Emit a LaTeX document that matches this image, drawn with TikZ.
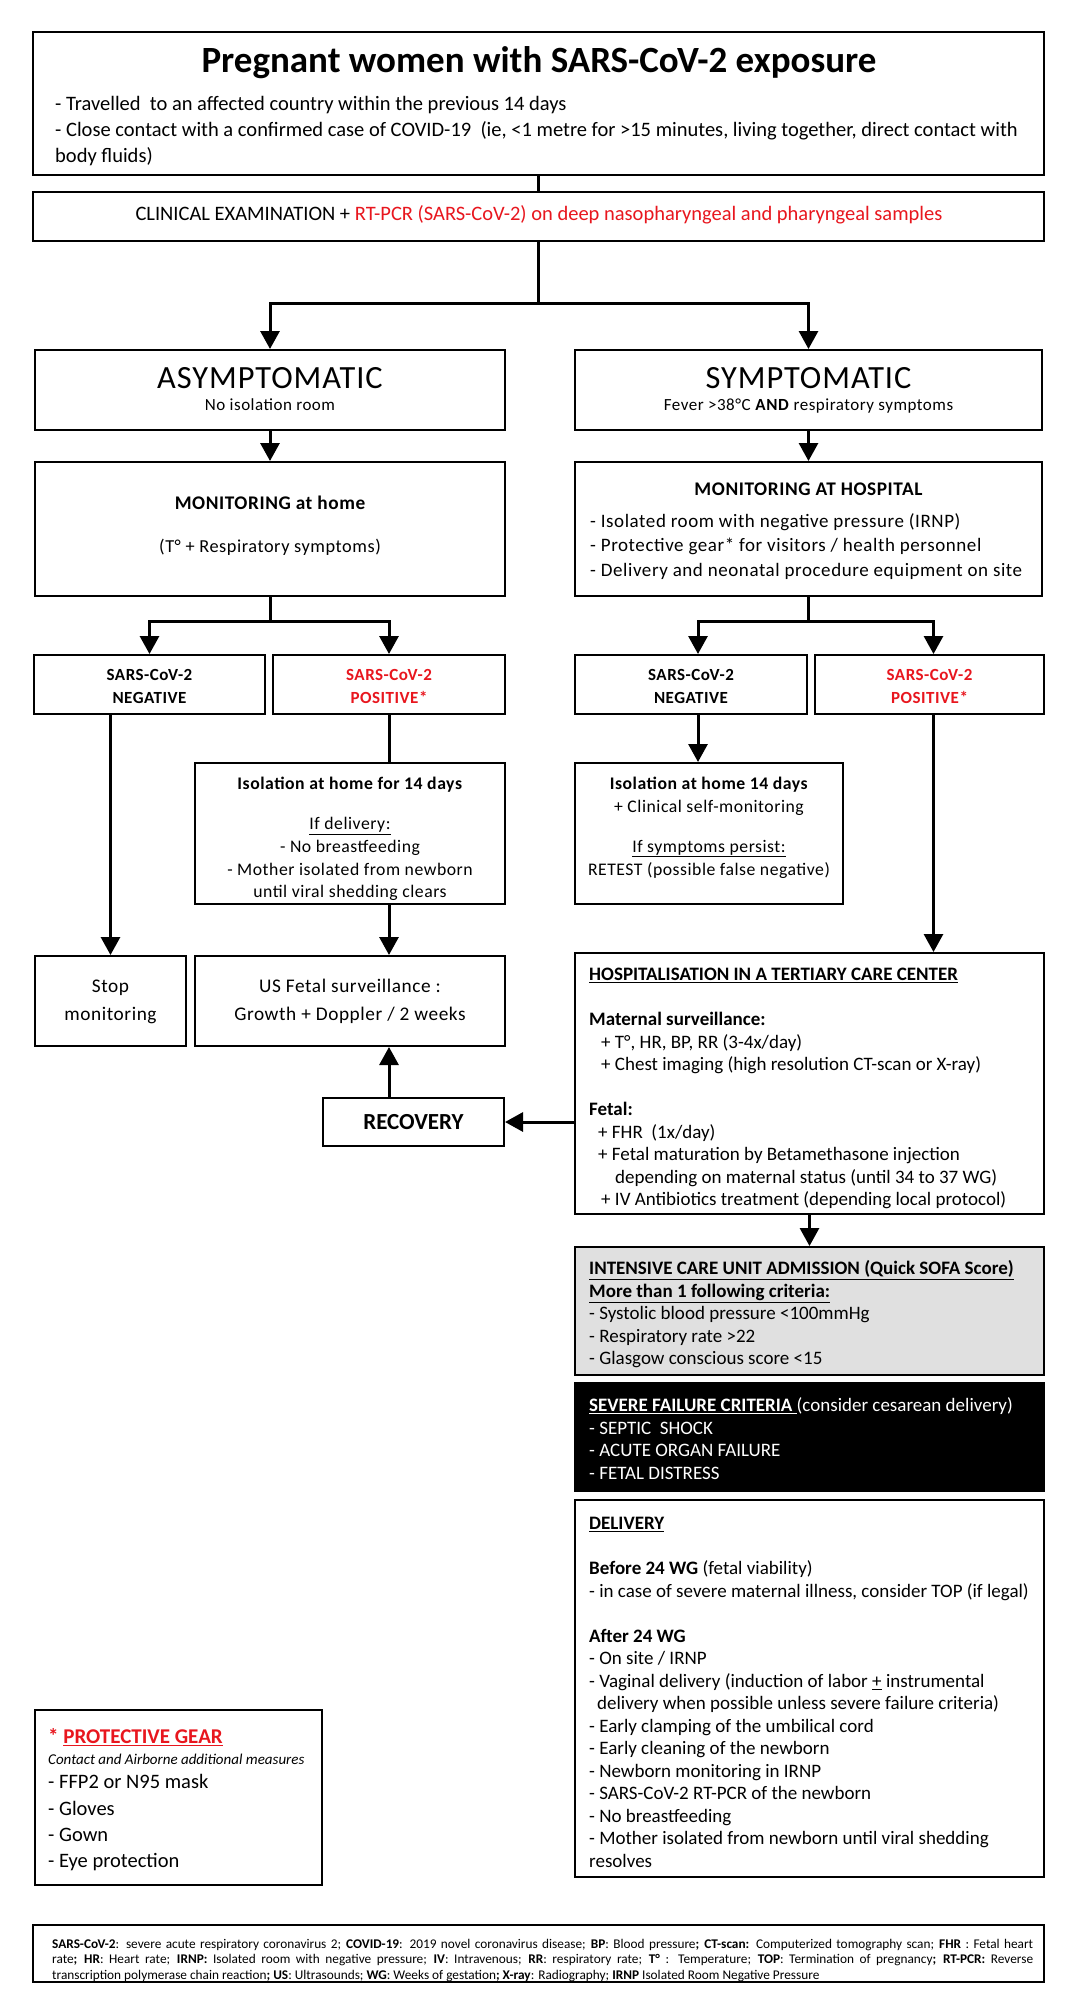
\documentclass[tikz,border=0pt]{standalone}
\usepackage{fontspec}
\setmainfont{Carlito}
\newfontfamily\spaced[LetterSpace=3]{Carlito}
\usetikzlibrary{arrows.meta,fit,calc}
\definecolor{alertred}{RGB}{232,22,30}
\definecolor{icugray}{RGB}{224,224,224}
\tikzset{
  box/.style={draw, line width=2pt, inner sep=0pt},
  link/.style={line width=3pt},
  arr/.style={link, -{Triangle[width=19pt,length=18pt]}},
  txt/.style={inner sep=0pt, align=left, anchor=north west},
  ctxt/.style={inner sep=0pt, align=center},
}
\begin{document}
\begin{tikzpicture}[x=1pt,y=-1pt]
\useasboundingbox[fill=white] (0,0) rectangle (1080,2005);

% boxes
\node[box, fit={(33,32) (1044,175)}] (expo) {};
\node[box, fit={(33,192) (1044,241)}] (exam) {};
\node[box, fit={(35,350) (505,430)}] (asym) {};
\node[box, fit={(575,350) (1042,430)}] (sym) {};
\node[box, fit={(35,462) (505,596)}] (mhome) {};
\node[box, fit={(575,462) (1042,596)}] (mhosp) {};
\node[box, fit={(34,655) (265,714)}] (lneg) {};
\node[box, fit={(273,655) (505,714)}] (lpos) {};
\node[box, fit={(575,655) (807,714)}] (rneg) {};
\node[box, fit={(815,655) (1044,714)}] (rpos) {};
\node[box, fit={(195,763) (505,904)}] (liso) {};
\node[box, fit={(575,763) (843,904)}] (riso) {};
\node[box, fit={(35,956) (186,1046)}] (stop) {};
\node[box, fit={(195,956) (505,1046)}] (usf) {};
\node[box, fit={(575,953) (1044,1214)}] (hosp) {};
\node[box, fit={(323,1098) (504,1146)}] (recov) {};
\node[box, fill=icugray, fit={(575,1247) (1044,1375)}] (icu) {};
\node[box, fill=black, fit={(575,1383) (1044,1491)}] (sev) {};
\node[box, fit={(575,1500) (1044,1877)}] (deliv) {};
\node[box, fit={(35,1710) (322,1885)}] (gear) {};
\node[box, fit={(33,1925) (1044,1982)}] (abbr) {};

% texts
\node[ctxt, anchor=mid, font=\bfseries\fontsize{37}{44}\selectfont] (title) at (539,70) {Pregnant women with SARS-CoV-2 exposure};
\node[txt, font=\fontsize{20.5}{26}\selectfont] (expotext) at (55,92) {\strut- Travelled\ \ to an affected country within the previous 14 days\\
- Close contact with a confirmed case of COVID-19\ \ (ie, <1 metre for >15 minutes, living together, direct contact with\\
body fluids)};
\node[ctxt, anchor=mid, font=\fontsize{20.5}{24}\selectfont] (examtext) at (539,218) {CLINICAL EXAMINATION + {\color{alertred}RT-PCR (SARS-CoV-2) on deep nasopharyngeal and pharyngeal samples}};

\node[ctxt, anchor=base, font=\spaced\fontsize{32.4}{38}\selectfont] (asymhead) at (270,388.5) {ASYMPTOMATIC};
\node[ctxt, anchor=mid, font=\spaced\fontsize{17}{22}\selectfont] (asymtext) at (270,408) {No isolation room};
\node[ctxt, anchor=base, font=\spaced\fontsize{32.4}{38}\selectfont] (symhead) at (808.5,388.5) {SYMPTOMATIC};
\node[ctxt, anchor=mid, font=\spaced\fontsize{17}{22}\selectfont] (symtext) at (808.5,408) {Fever >38°C \textbf{AND} respiratory symptoms};

\node[ctxt, anchor=mid, font=\spaced\bfseries\fontsize{19.3}{24}\selectfont] (mhomehead) at (270,507) {MONITORING at home};
\node[ctxt, anchor=mid, font=\spaced\fontsize{18.3}{24}\selectfont] (mhometext) at (270,550) {(T° + Respiratory symptoms)};
\node[ctxt, anchor=mid, font=\spaced\bfseries\fontsize{19.3}{24}\selectfont] (mhosphead) at (808.5,493) {MONITORING AT HOSPITAL};
\node[txt, font=\spaced\fontsize{19}{24.5}\selectfont] (mhosptext) at (590,510) {\strut- Isolated room with negative pressure (IRNP)\\
- Protective gear* for visitors / health personnel\\
- Delivery and neonatal procedure equipment on site};

\node[ctxt, anchor=north, font=\spaced\bfseries\fontsize{17}{23}\selectfont] (lnegtext) at (149.5,664) {\strut SARS-CoV-2\\NEGATIVE};
\node[ctxt, anchor=north, text=alertred, font=\spaced\bfseries\fontsize{17}{23}\selectfont] (lpostext) at (389,664) {\strut SARS-CoV-2\\POSITIVE*};
\node[ctxt, anchor=north, font=\spaced\bfseries\fontsize{17}{23}\selectfont] (rnegtext) at (691,664) {\strut SARS-CoV-2\\NEGATIVE};
\node[ctxt, anchor=north, text=alertred, font=\spaced\bfseries\fontsize{17}{23}\selectfont] (rpostext) at (929.5,664) {\strut SARS-CoV-2\\POSITIVE*};

\node[ctxt, anchor=north, font=\spaced\fontsize{17.7}{22.7}\selectfont] (lisotext) at (350,773.5) {\strut\textbf{Isolation at home for 14 days}\\[17.3pt]
\underline{If delivery:}\\
- No breastfeeding\\
- Mother isolated from newborn\\
until viral shedding clears};
\node[ctxt, anchor=north, font=\spaced\fontsize{17.7}{22.7}\selectfont] (risotext) at (709,773.5) {\strut\textbf{Isolation at home 14 days}\\
+ Clinical self-monitoring\\[17.3pt]
\underline{If symptoms persist:}\\
RETEST (possible false negative)};

\node[ctxt, anchor=north, font=\spaced\fontsize{19.3}{28}\selectfont] (stoptext) at (110.5,973) {\strut Stop\\monitoring};
\node[ctxt, anchor=north, font=\spaced\fontsize{19.3}{28}\selectfont] (usftext) at (350,973) {\strut US Fetal surveillance :\\Growth + Doppler / 2 weeks};
\node[ctxt, anchor=base, font=\bfseries\fontsize{23}{27}\selectfont] (recovtext) at (413.5,1129.5) {RECOVERY};

\node[txt, font=\fontsize{19}{22.5}\selectfont] (hosptext) at (589,965) {\strut\underline{\textbf{HOSPITALISATION IN A TERTIARY CARE CENTER}}\\[22.5pt]
\textbf{Maternal surveillance:}\\
\hspace*{12pt}+ T°, HR, BP, RR (3-4x/day)\\
\hspace*{12pt}+ Chest imaging (high resolution CT-scan or X-ray)\\[22.5pt]
\textbf{Fetal:}\\
\hspace*{9pt}+ FHR\ \ (1x/day)\\
\hspace*{9pt}+ Fetal maturation by Betamethasone injection\\
\hspace*{26pt}depending on maternal status (until 34 to 37 WG)\\
\hspace*{12pt}+ IV Antibiotics treatment (depending local protocol)};

\node[txt, font=\fontsize{19}{22.5}\selectfont] (icutext) at (589,1259) {\strut\underline{\textbf{INTENSIVE CARE UNIT ADMISSION (Quick SOFA Score)}}\\
\underline{\textbf{More than 1 following criteria:}}\\
- Systolic blood pressure <100mmHg\\
- Respiratory rate >22\\
- Glasgow conscious score <15};

\node[txt, text=white, font=\fontsize{19}{22.5}\selectfont] (sevtext) at (589,1396) {\strut\underline{\textbf{SEVERE FAILURE CRITERIA }}(consider cesarean delivery)\\
- SEPTIC\ \ SHOCK\\
- ACUTE ORGAN FAILURE\\
- FETAL DISTRESS};

\node[txt, font=\fontsize{19}{22.5}\selectfont] (delivtext) at (589,1514) {\strut\underline{\textbf{DELIVERY}}\\[22.5pt]
\textbf{Before 24 WG} (fetal viability)\\
- in case of severe maternal illness, consider TOP (if legal)\\[22.5pt]
\textbf{After 24 WG}\\
- On site / IRNP\\
- Vaginal delivery (induction of labor \underline{+} instrumental\\
\hspace*{8pt}delivery when possible unless severe failure criteria)\\
- Early clamping of the umbilical cord\\
- Early cleaning of the newborn\\
- Newborn monitoring in IRNP\\
- SARS-CoV-2 RT-PCR of the newborn\\
- No breastfeeding\\
- Mother isolated from newborn until viral shedding\\
resolves};

\node[txt, font=\fontsize{20.5}{26}\selectfont] (geartext) at (48,1725) {\strut{\color{alertred}\fontsize{21}{26}\selectfont\textbf{* \underline{PROTECTIVE GEAR}}}\\[-5pt]
{\fontsize{15}{26}\selectfont\itshape Contact and Airborne additional measures}\\[-2pt]
- FFP2 or N95 mask\\[1pt]
- Gloves\\
- Gown\\
- Eye protection};

\node[txt, align=justify, text width=981pt, font=\fontsize{13.3}{15.5}\selectfont] (abbrtext) at (52,1937) {\strut\textbf{SARS-CoV-2}: severe acute respiratory coronavirus 2; \textbf{COVID-19}: 2019 novel coronavirus disease; \textbf{BP}: Blood pressure\textbf{; CT-scan:} Computerized tomography scan; \textbf{FHR} : Fetal heart\linebreak
rate\textbf{; HR}: Heart rate; \textbf{IRNP:} Isolated room with negative pressure; \textbf{IV}: Intravenous; \textbf{RR}: respiratory rate; \textbf{T°} : Temperature; \textbf{TOP}: Termination of pregnancy\textbf{; RT-PCR:} Reverse\linebreak
transcription polymerase chain reaction\textbf{; US}: Ultrasounds; \textbf{WG}: Weeks of gestation\textbf{; X-ray}: Radiography; \textbf{IRNP} Isolated Room Negative Pressure};

% connectors
\draw[link] (expo.south) -- (exam.north);
\draw[link] (exam.south) -- ++(0,61) coordinate (split1);
\draw[arr] (split1) -| (asym.north);
\draw[arr] (split1) -| (sym.north);
\draw[arr] (asym.south) -- (mhome.north);
\draw[arr] (sym.south) -- (mhosp.north);
\draw[link] (mhome.south) -- ++(0,24) coordinate (split2);
\draw[arr] (split2) -| (lneg.north);
\draw[arr] (split2) -| (lpos.north);
\draw[link] (mhosp.south) -- ++(0,24) coordinate (split3);
\draw[arr] (split3) -| ([xshift=7pt]rneg.north);
\draw[arr] (split3) -| ([xshift=4pt]rpos.north);
\draw[arr] (stop.north |- lneg.south) -- (stop.north);
\draw[link] (lpos.south) -- (lpos.south |- liso.north);
\draw[arr] (lpos.south |- liso.south) -- (lpos.south |- usf.north);
\draw[arr] ([xshift=7pt]rneg.south) -- ([xshift=7pt]rneg.south |- riso.north);
\draw[arr] ([xshift=4pt]rpos.south) -- ([xshift=4pt]rpos.south |- hosp.north);
\draw[arr] (hosp.west |- recov.east) -- (recov.east);
\draw[arr] (lpos.south |- recov.north) -- (lpos.south |- usf.south);
\draw[arr] (hosp.south) -- (icu.north);
\end{tikzpicture}
\end{document}
